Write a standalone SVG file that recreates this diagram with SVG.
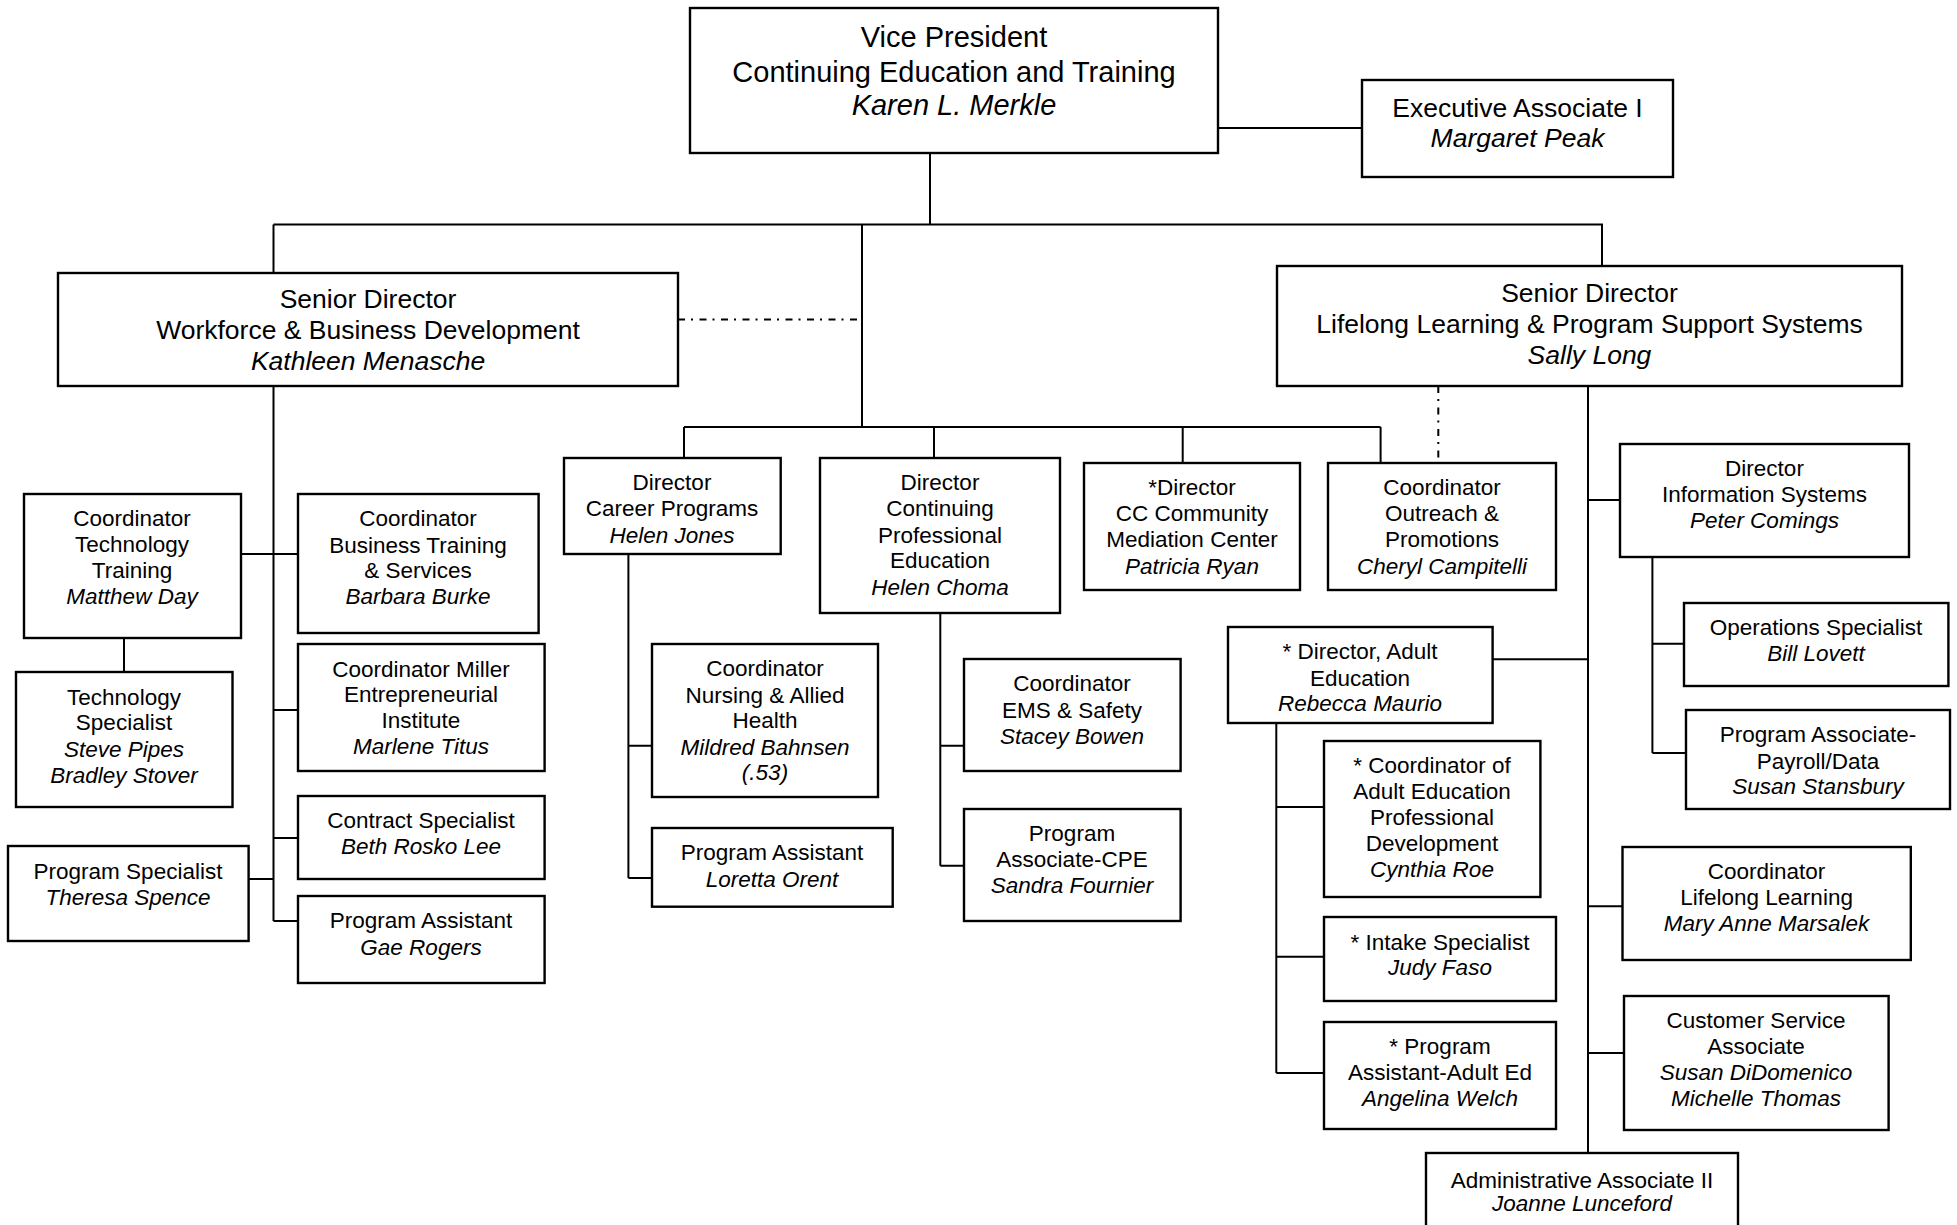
<svg xmlns="http://www.w3.org/2000/svg" width="1957" height="1225" viewBox="0 0 1957 1225">
<style>
.box{fill:#fff;stroke:#000;stroke-width:2.4}
.ln{fill:none;stroke:#000;stroke-width:2}
.dd{fill:none;stroke:#000;stroke-width:2;stroke-dasharray:7 6 2 6.5}
text{font-family:"Liberation Sans",Arial,sans-serif;fill:#000;text-anchor:middle}
.s{font-size:22.5px}
.m{font-size:26.5px}
.l{font-size:29px}
.i{font-style:italic}
</style>
<rect width="1957" height="1225" fill="#fff"/>
<g id="connectors">
<path class="ln" d="M1218 128H1362"/>
<path class="ln" d="M930 153V224.5"/>
<path class="ln" d="M273.5 224.5H1602V266"/>
<path class="ln" d="M273.5 224.5V273"/>
<path class="ln" d="M862 224.5V427"/>
<path class="dd" d="M678 319.5H862"/>
<path class="ln" d="M684 427H1380.6"/>
<path class="ln" d="M684 427V458M934 427V458M1182.7 427V463M1380.6 427V463"/>
<path class="dd" d="M1438.3 386V463"/>
<path class="ln" d="M1588 386V1153"/>
<path class="ln" d="M1588 500H1620"/>
<path class="ln" d="M1652.4 557V753M1652.4 643.7H1684M1652.4 753H1686"/>
<path class="ln" d="M1492.6 659.3H1588"/>
<path class="ln" d="M1276.3 723V1073M1276.3 807H1324M1276.3 956.7H1324M1276.3 1073H1324"/>
<path class="ln" d="M1588 906.3H1622.5M1588 1053H1624"/>
<path class="ln" d="M628.4 554V878M628.4 745.7H652M628.4 878H652"/>
<path class="ln" d="M940.3 613V865.7M940.3 745.7H964M940.3 865.7H964"/>
<path class="ln" d="M273.5 386V921"/>
<path class="ln" d="M240.7 554H298M273.5 710H298M273.5 838H298M273.5 921H298M248.6 879H273.5"/>
<path class="ln" d="M124 638V672"/>
</g>
<g id="vp">
<rect class="box" x="690" y="8" width="528" height="145"/>
<text class="l" x="954" y="47">Vice President</text>
<text class="l" x="954" y="82">Continuing Education and Training</text>
<text class="l i" x="954" y="115">Karen L. Merkle</text>
</g>
<g id="exec">
<rect class="box" x="1362" y="80" width="311" height="97"/>
<text class="m" x="1517.5" y="116.5">Executive Associate I</text>
<text class="m i" x="1517.5" y="146.5">Margaret Peak</text>
</g>
<g id="workforce">
<rect class="box" x="58" y="273" width="620" height="113"/>
<text class="m" x="368" y="308">Senior Director</text>
<text class="m" x="368" y="339">Workforce &amp; Business Development</text>
<text class="m i" x="368" y="370">Kathleen Menasche</text>
</g>
<g id="lifelong">
<rect class="box" x="1277" y="266" width="625" height="120"/>
<text class="m" x="1589.5" y="302">Senior Director</text>
<text class="m" x="1589.5" y="333">Lifelong Learning &amp; Program Support Systems</text>
<text class="m i" x="1589.5" y="364">Sally Long</text>
</g>
<g id="coord-tech">
<rect class="box" x="24" y="494" width="217" height="144"/>
<text class="s" x="132" y="526">Coordinator</text>
<text class="s" x="132" y="552">Technology</text>
<text class="s" x="132" y="578">Training</text>
<text class="s i" x="132" y="604">Matthew Day</text>
</g>
<g id="tech-spec">
<rect class="box" x="16" y="672" width="216.5" height="135"/>
<text class="s" x="124" y="705">Technology</text>
<text class="s" x="124" y="730">Specialist</text>
<text class="s i" x="124" y="757">Steve Pipes</text>
<text class="s i" x="124" y="783">Bradley Stover</text>
</g>
<g id="prog-spec">
<rect class="box" x="8" y="846" width="240.6" height="95"/>
<text class="s" x="128" y="879">Program Specialist</text>
<text class="s i" x="128" y="905">Theresa Spence</text>
</g>
<g id="coord-business">
<rect class="box" x="298" y="494" width="240.6" height="139"/>
<text class="s" x="418" y="526">Coordinator</text>
<text class="s" x="418" y="553">Business Training</text>
<text class="s" x="418" y="578">&amp; Services</text>
<text class="s i" x="418" y="604">Barbara Burke</text>
</g>
<g id="coord-miller">
<rect class="box" x="298" y="644" width="246.6" height="127"/>
<text class="s" x="421" y="677">Coordinator Miller</text>
<text class="s" x="421" y="702">Entrepreneurial</text>
<text class="s" x="421" y="728">Institute</text>
<text class="s i" x="421" y="754">Marlene Titus</text>
</g>
<g id="contract">
<rect class="box" x="298" y="796" width="246.6" height="83"/>
<text class="s" x="421" y="828">Contract Specialist</text>
<text class="s i" x="421" y="854">Beth Rosko Lee</text>
</g>
<g id="prog-asst-gae">
<rect class="box" x="298" y="896" width="246.6" height="87"/>
<text class="s" x="421" y="928">Program Assistant</text>
<text class="s i" x="421" y="955">Gae Rogers</text>
</g>
<g id="dir-career">
<rect class="box" x="564" y="458" width="216.7" height="96"/>
<text class="s" x="672" y="490">Director</text>
<text class="s" x="672" y="516">Career Programs</text>
<text class="s i" x="672" y="543">Helen Jones</text>
</g>
<g id="dir-cpe">
<rect class="box" x="820" y="458" width="240" height="155"/>
<text class="s" x="940" y="490">Director</text>
<text class="s" x="940" y="516">Continuing</text>
<text class="s" x="940" y="543">Professional</text>
<text class="s" x="940" y="568">Education</text>
<text class="s i" x="940" y="595">Helen Choma</text>
</g>
<g id="dir-cc">
<rect class="box" x="1084" y="463" width="216" height="127"/>
<text class="s" x="1192" y="495">*Director</text>
<text class="s" x="1192" y="521">CC Community</text>
<text class="s" x="1192" y="547">Mediation Center</text>
<text class="s i" x="1192" y="574">Patricia Ryan</text>
</g>
<g id="coord-outreach">
<rect class="box" x="1328" y="463" width="228" height="127"/>
<text class="s" x="1442" y="495">Coordinator</text>
<text class="s" x="1442" y="521">Outreach &amp;</text>
<text class="s" x="1442" y="547">Promotions</text>
<text class="s i" x="1442" y="574">Cheryl Campitelli</text>
</g>
<g id="coord-nursing">
<rect class="box" x="652" y="644" width="226" height="153"/>
<text class="s" x="765" y="676">Coordinator</text>
<text class="s" x="765" y="703">Nursing &amp; Allied</text>
<text class="s" x="765" y="728">Health</text>
<text class="s i" x="765" y="755">Mildred Bahnsen</text>
<text class="s i" x="765" y="780">(.53)</text>
</g>
<g id="prog-asst-loretta">
<rect class="box" x="652" y="828" width="240.7" height="78.7"/>
<text class="s" x="772" y="860">Program Assistant</text>
<text class="s i" x="772" y="887">Loretta Orent</text>
</g>
<g id="coord-ems">
<rect class="box" x="964" y="659" width="216.6" height="112"/>
<text class="s" x="1072" y="691">Coordinator</text>
<text class="s" x="1072" y="718">EMS &amp; Safety</text>
<text class="s i" x="1072" y="744">Stacey Bowen</text>
</g>
<g id="prog-assoc-cpe">
<rect class="box" x="964" y="809" width="216.6" height="112"/>
<text class="s" x="1072" y="841">Program</text>
<text class="s" x="1072" y="867">Associate-CPE</text>
<text class="s i" x="1072" y="893">Sandra Fournier</text>
</g>
<g id="dir-info">
<rect class="box" x="1620" y="444" width="289" height="113"/>
<text class="s" x="1764.5" y="476">Director</text>
<text class="s" x="1764.5" y="502">Information Systems</text>
<text class="s i" x="1764.5" y="528">Peter Comings</text>
</g>
<g id="ops-spec">
<rect class="box" x="1684" y="603" width="264.4" height="83"/>
<text class="s" x="1816" y="635">Operations Specialist</text>
<text class="s i" x="1816" y="661">Bill Lovett</text>
</g>
<g id="payroll">
<rect class="box" x="1686" y="710" width="264" height="99"/>
<text class="s" x="1818" y="742">Program Associate-</text>
<text class="s" x="1818" y="769">Payroll/Data</text>
<text class="s i" x="1818" y="794">Susan Stansbury</text>
</g>
<g id="dir-adult">
<rect class="box" x="1228" y="627" width="264.6" height="96"/>
<text class="s" x="1360" y="659">* Director, Adult</text>
<text class="s" x="1360" y="686">Education</text>
<text class="s i" x="1360" y="711">Rebecca Maurio</text>
</g>
<g id="coord-adult-pd">
<rect class="box" x="1324" y="741" width="216.4" height="156"/>
<text class="s" x="1432" y="773">* Coordinator of</text>
<text class="s" x="1432" y="799">Adult Education</text>
<text class="s" x="1432" y="825">Professional</text>
<text class="s" x="1432" y="851">Development</text>
<text class="s i" x="1432" y="877">Cynthia Roe</text>
</g>
<g id="intake">
<rect class="box" x="1324" y="917" width="232" height="84"/>
<text class="s" x="1440" y="950">* Intake Specialist</text>
<text class="s i" x="1440" y="975">Judy Faso</text>
</g>
<g id="prog-asst-adult">
<rect class="box" x="1324" y="1022" width="232" height="107"/>
<text class="s" x="1440" y="1054">* Program</text>
<text class="s" x="1440" y="1080">Assistant-Adult Ed</text>
<text class="s i" x="1440" y="1106">Angelina Welch</text>
</g>
<g id="coord-lifelong">
<rect class="box" x="1622.5" y="847" width="288.3" height="113"/>
<text class="s" x="1766.6" y="879">Coordinator</text>
<text class="s" x="1766.6" y="905">Lifelong Learning</text>
<text class="s i" x="1766.6" y="931">Mary Anne Marsalek</text>
</g>
<g id="customer-service">
<rect class="box" x="1624" y="996" width="264.6" height="134"/>
<text class="s" x="1756" y="1028">Customer Service</text>
<text class="s" x="1756" y="1054">Associate</text>
<text class="s i" x="1756" y="1080">Susan DiDomenico</text>
<text class="s i" x="1756" y="1106">Michelle Thomas</text>
</g>
<g id="admin-assoc">
<rect class="box" x="1426" y="1153" width="312" height="90"/>
<text class="s" x="1582" y="1188">Administrative Associate II</text>
<text class="s i" x="1582" y="1211">Joanne Lunceford</text>
</g>
</svg>
